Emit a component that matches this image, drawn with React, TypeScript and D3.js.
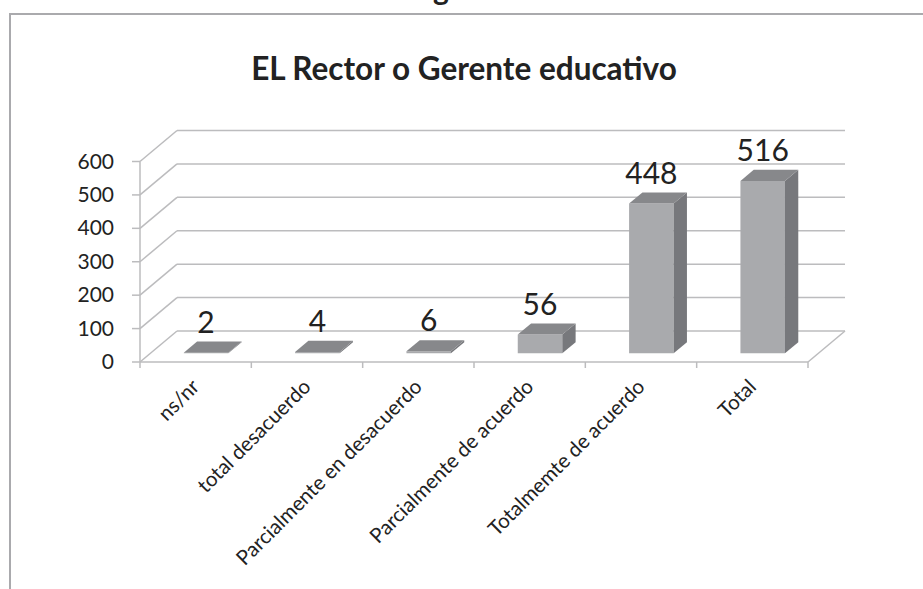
import React from "react";
import * as d3 from "d3";

const categories = [
  "ns/nr",
  "total desacuerdo",
  "Parcialmente en desacuerdo",
  "Parcialmente de acuerdo",
  "Totalmemte de acuerdo",
  "Total",
];
const values = [2, 4, 6, 56, 448, 516];
const yTicks = [0, 100, 200, 300, 400, 500, 600];
const title = "EL Rector o Gerente educativo";

const W = 923;
const H = 589;
const FONT = "Lato, 'Open Sans', sans-serif";

export default function App() {
  const x = d3.scaleBand<string>().domain(categories).range([140, 808]).padding(0);
  const y = d3.scaleLinear().domain([0, 600]).range([362, 161.5]);
  const DX = 37;
  const DY = -31;
  const d0 = 0.28;
  const d1 = 0.64;
  const barFrac = 0.4;

  const grid = "#bcbcbe";
  const bw = x.bandwidth() * barFrac;

  const bars = categories.map((c, i) => {
    const v = values[i];
    const xf = (x(c) as number) + (x.bandwidth() - bw) / 2 + d0 * DX;
    const yb = y(0) + d0 * DY;
    const yt = y(v) + d0 * DY;
    const ox = (d1 - d0) * DX;
    const oy = (d1 - d0) * DY;
    const front = `M${xf},${yb}L${xf + bw},${yb}L${xf + bw},${yt}L${xf},${yt}Z`;
    const side = `M${xf + bw},${yb}L${xf + bw + ox},${yb + oy}L${xf + bw + ox},${yt + oy}L${xf + bw},${yt}Z`;
    const top = `M${xf},${yt}L${xf + bw},${yt}L${xf + bw + ox},${yt + oy}L${xf + ox},${yt + oy}Z`;
    return { c, v, xf, yt, front, side, top };
  });

  return (
    <svg
      width={W}
      height={H}
      style={{ position: "absolute", left: 0, top: 0, background: "#fff" }}
      fontFamily={FONT}
    >
      {/* fragment of text above the frame (cut off in the reference too) */}
      <text x={441} y={0} textAnchor="middle" fontSize={30} fontWeight="bold" fill="#222">
        g
      </text>
      {/* frame */}
      <line x1={10} y1={14} x2={W} y2={14} stroke="#aaaaad" strokeWidth={2} />
      <line x1={10} y1={13} x2={10} y2={H} stroke="#aaaaad" strokeWidth={2} />

      <text x={464} y={80} textAnchor="middle" fontSize={31.5} fontWeight="bold" fill="#222">
        {title}
      </text>

      {/* back wall gridlines and side wall diagonals */}
      {yTicks.map((t) => (
        <g key={t}>
          <line x1={140} y1={y(t)} x2={140 + DX} y2={y(t) + DY} stroke={grid} strokeWidth={1.5} />
          <line x1={140 + DX} y1={y(t) + DY} x2={808 + DX} y2={y(t) + DY} stroke={grid} strokeWidth={1.5} />
        </g>
      ))}
      {/* floor right edge */}
      <line x1={808} y1={y(0)} x2={808 + DX} y2={y(0) + DY} stroke={grid} strokeWidth={1.5} />
      {/* front axes */}
      <line x1={140} y1={y(600)} x2={140} y2={y(0)} stroke={grid} strokeWidth={1.5} />
      <line x1={140} y1={y(0)} x2={808} y2={y(0)} stroke={grid} strokeWidth={1.5} />
      {yTicks.map((t) => (
        <line key={"yt" + t} x1={132} y1={y(t)} x2={140} y2={y(t)} stroke={grid} strokeWidth={1.5} />
      ))}
      {[...categories.map((c) => x(c) as number), 808].map((v, i) => (
        <line key={"xt" + i} x1={v} y1={y(0)} x2={v} y2={y(0) + 6} stroke={grid} strokeWidth={1.5} />
      ))}

      {/* y tick labels */}
      {yTicks.map((t) => (
        <text key={"yl" + t} x={114} y={y(t) + 7} textAnchor="end" fontSize={21} fill="#222">
          {t}
        </text>
      ))}

      {/* bars */}
      {bars.map((b) => (
        <g key={b.c}>
          <path d={b.front} fill="#a9aaad" />
          <path d={b.side} fill="#77787c" />
          <path d={b.top} fill="#87888b" />
          <text x={b.xf + bw / 2} y={b.yt - 20} textAnchor="middle" fontSize={30} fill="#222">
            {b.v}
          </text>
        </g>
      ))}

      {/* category labels */}
      {categories.map((c) => {
        const cx = (x(c) as number) + x.bandwidth() / 2 + 5;
        const cy = 388;
        return (
          <text
            key={"cl" + c}
            x={cx}
            y={cy}
            textAnchor="end"
            fontSize={20.5}
            fill="#222"
            transform={`rotate(-45 ${cx} ${cy})`}
          >
            {c}
          </text>
        );
      })}
    </svg>
  );
}
